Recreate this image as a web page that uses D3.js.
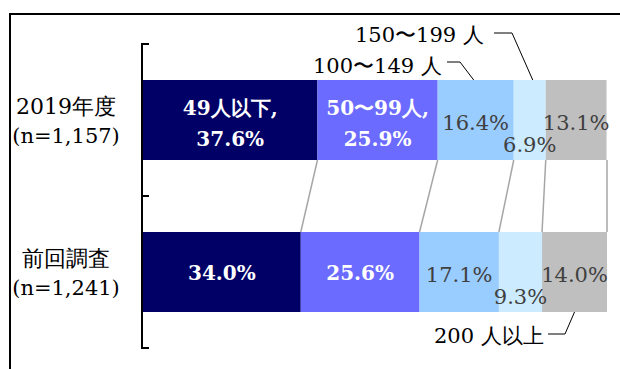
<!DOCTYPE html>
<html>
<head>
<meta charset="utf-8">
<script src="https://cdn.jsdelivr.net/npm/d3@7"></script>
<style>
  html, body { margin: 0; padding: 0; background: #fff; }
  svg { display: block; }
</style>
</head>
<body>
<svg id="chart" width="620" height="369"></svg>
<script>
// Survey groups (rows) and their sample sizes
const groups = ["2019年度", "前回調査"];
const sampleSizes = ["(n=1,157)", "(n=1,241)"];

// Company size classes (stack order, left to right)
const sizeClasses = ["49人以下", "50〜99人", "100〜149 人", "150〜199 人", "200 人以上"];

// Share of each size class, percent
const shares2019 = [37.6, 25.9, 16.4, 6.9, 13.1];
const sharesPrev = [34.0, 25.6, 17.1, 9.3, 14.0];

const colors = ["#000066", "#6B6BFF", "#99CCFF", "#CCEBFF", "#BFBFBF"];
const labelColors = ["#ffffff", "#ffffff", "#404040", "#404040", "#404040"];
const serif = "DejaVu Serif, serif";

const svg = d3.select("#chart");

// Outer frame (open to the right and bottom)
svg.append("rect")
  .attr("x", 10).attr("y", 14)
  .attr("width", 700).attr("height", 400)
  .attr("fill", "none").attr("stroke", "#000").attr("stroke-width", 2);

const x = d3.scaleLinear().domain([0, 100]).range([143, 607]);
const y = d3.scaleBand().domain(groups).range([44, 348])
  .paddingInner(0.4737).paddingOuter(0.2368);

// Build stacked rows
const rows = groups.map((g, i) => {
  const vals = i === 0 ? shares2019 : sharesPrev;
  let acc = 0;
  return {
    group: g,
    n: sampleSizes[i],
    segs: vals.map((v, k) => {
      const s = { k, v, x0: acc, x1: acc + v };
      acc += v;
      return s;
    })
  };
});

// Gray connector lines between matching boundaries of the two bars
const r0 = rows[0], r1 = rows[1];
const boundaries = r0.segs.map((s, k) => [s.x1, r1.segs[k].x1]);
svg.append("g").selectAll("line")
  .data(boundaries.slice(0, 4).concat([[100, 100]]))
  .join("line")
  .attr("x1", d => x(d[0])).attr("y1", y(groups[0]) + y.bandwidth())
  .attr("x2", d => x(d[1])).attr("y2", y(groups[1]))
  .attr("stroke", "#A6A6A6").attr("stroke-width", 1.5);

// Bars
const rowG = svg.append("g").selectAll("g").data(rows).join("g");
rowG.selectAll("rect")
  .data(d => d.segs.map(s => ({ ...s, group: d.group })))
  .join("rect")
  .attr("x", d => x(d.x0))
  .attr("y", d => y(d.group))
  .attr("width", d => x(d.x1) - x(d.x0))
  .attr("height", y.bandwidth())
  .attr("fill", d => colors[d.k]);

// Value labels
rows.forEach((row, ri) => {
  const cy = y(row.group) + y.bandwidth() / 2;
  row.segs.forEach(s => {
    const cx = (x(s.x0) + x(s.x1)) / 2;
    const white = s.k < 2;
    const t = svg.append("text")
      .attr("text-anchor", "middle")
      .attr("font-family", serif)
      .attr("fill", labelColors[s.k])
      .attr("font-weight", white ? "bold" : "normal")
      .attr("font-size", white ? 20 : 21);
    const pct = s.v.toFixed(1) + "%";
    if (ri === 0 && white) {
      t.append("tspan").attr("x", cx).attr("y", cy - 5).text(sizeClasses[s.k] + ",");
      t.append("tspan").attr("x", cx).attr("y", cy + 26).text(pct);
    } else {
      const dy = s.k === 3 ? 32 : (white ? 8 : 10);
      t.attr("x", cx).attr("y", cy + dy).text(pct);
    }
  });
});

// Category axis with ticks at band edges
const [ya, yb] = y.range();
const yMid = (y(groups[0]) + y.bandwidth() + y(groups[1])) / 2;
const axisX = 142;
svg.append("line")
  .attr("x1", axisX).attr("x2", axisX).attr("y1", ya).attr("y2", yb)
  .attr("stroke", "#000").attr("stroke-width", 2);
svg.append("g").selectAll("line")
  .data([ya, yMid, yb]).join("line")
  .attr("x1", axisX - 1).attr("x2", axisX + 7)
  .attr("y1", d => d).attr("y2", d => d)
  .attr("stroke", "#000").attr("stroke-width", 2);

// Category labels
rows.forEach(row => {
  const cy = y(row.group) + y.bandwidth() / 2;
  const t = svg.append("text")
    .attr("text-anchor", "middle")
    .attr("font-family", serif).attr("font-size", 21).attr("fill", "#000");
  t.append("tspan").attr("x", 66).attr("y", cy - 6).attr("font-size", 22).text(row.group);
  t.append("tspan").attr("x", 66).attr("y", cy + 23).text(row.n);
});

// Callouts for the narrow segments
function callout(label, textX, textY, path) {
  svg.append("text")
    .attr("x", textX).attr("y", textY)
    .attr("text-anchor", "start")
    .attr("font-family", serif).attr("font-size", 21).attr("fill", "#000")
    .text(label);
  svg.append("path")
    .attr("d", d3.line()(path))
    .attr("fill", "none").attr("stroke", "#000").attr("stroke-width", 1);
}
const top0 = y(groups[0]);
const bot1 = y(groups[1]) + y.bandwidth();
const mid = (r, k) => x((r.segs[k].x0 + r.segs[k].x1) / 2);

callout(sizeClasses[3], 355, 42, [[494, 33], [512, 33], [mid(r0, 3) + 3, top0]]);
callout(sizeClasses[2], 313, 73, [[447, 62], [460, 62], [mid(r0, 2) - 2, top0]]);
callout(sizeClasses[4], 434, 343, [[548, 334], [565, 334], [mid(r1, 4), bot1]]);
</script>
</body>
</html>
